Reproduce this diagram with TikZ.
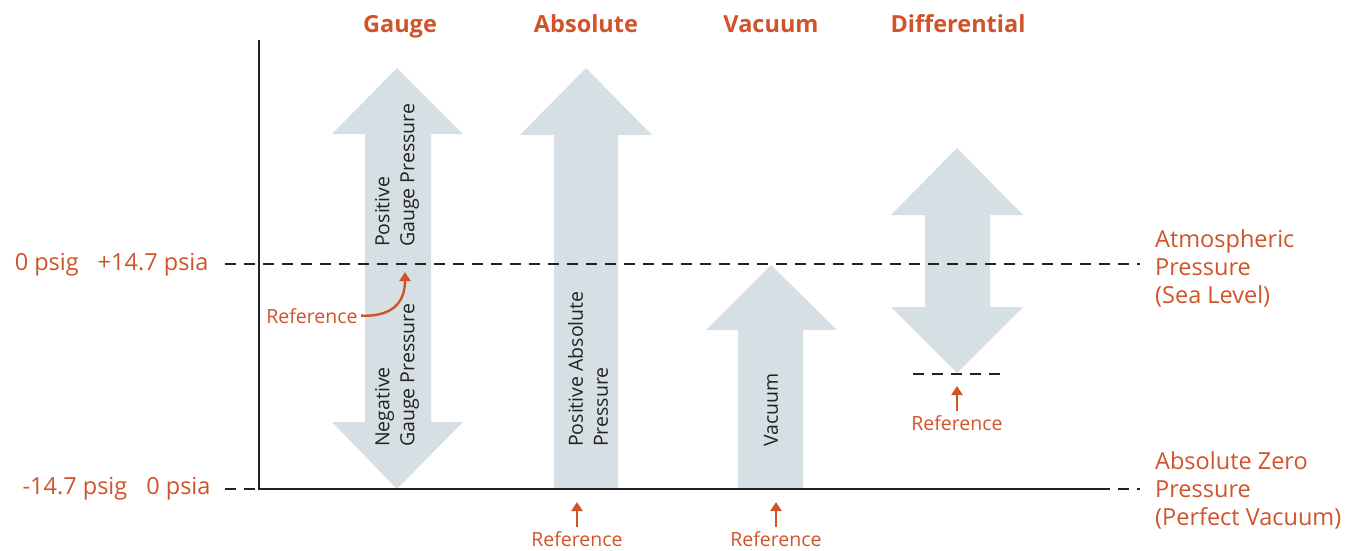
\documentclass[tikz,border=0pt]{standalone}
\usepackage{fontspec}
\setmainfont{Open Sans}
\usetikzlibrary{arrows.meta}
\definecolor{accent}{HTML}{D0532A}
\definecolor{arrowfill}{HTML}{D6DFE4}
\definecolor{ink}{HTML}{222222}
\tikzset{
  bigarrow/.style={fill=arrowfill, draw=none},
  refline/.style={ink, line width=2.4pt, dash pattern=on 11pt off 8pt},
  axisline/.style={ink, line width=2.6pt},
  title/.style={accent, font=\fontsize{23.5}{28}\selectfont\bfseries, anchor=base},
  sidelabel/.style={accent, font=\fontsize{23.5}{28}\selectfont, align=left},
  reftext/.style={accent, font=\fontsize{19.5}{22}\selectfont, anchor=base},
  reftip/.style={accent, line width=2.4pt, -{Triangle[length=9pt,width=11pt]}},
  rottext/.style={ink, font=\fontsize{19.5}{25}\selectfont, rotate=90, anchor=west, align=left, inner sep=0pt}
}
\begin{document}
\begin{tikzpicture}[x=1pt,y=-1pt]
\useasboundingbox (0,0) rectangle (1351,550);

% big arrows
% Gauge (double)
\path[bigarrow] (397,68) -- (463,134) -- (431,134) -- (431,422) -- (463,422) -- (397,489)
  -- (332,422) -- (365,422) -- (365,134) -- (332,134) -- cycle;
% Absolute
\path[bigarrow] (586,68) -- (652,135) -- (618,135) -- (618,489) -- (554,489) -- (554,135) -- (520,135) -- cycle;
% Vacuum
\path[bigarrow] (771,265) -- (837,330) -- (803,330) -- (803,489) -- (738,489) -- (738,330) -- (706,330) -- cycle;
% Differential (double)
\path[bigarrow] (957,148) -- (1023,215) -- (990,215) -- (990,307) -- (1023,307) -- (957,373)
  -- (891,307) -- (925,307) -- (925,215) -- (891,215) -- cycle;

% reference lines
\draw[refline] (225,264) -- (1140,264);
\draw[refline] (225,489) -- (1140,489);
\draw[refline] (913,374) -- (1002,374);
\draw[axisline] (259,40) -- (259,489) -- (1100,489);

% titles
\node[title] (tg) at (400,32) {Gauge};
\node[title] (ta) at (586,32) {Absolute};
\node[title] (tv) at (771,32) {Vacuum};
\node[title] (td) at (958,32) {Differential};

% left labels
\node[sidelabel, anchor=base east] (l1) at (212,270) {0 psig\hspace{19pt}+14.7 psia};
\node[sidelabel, anchor=base east] (l2) at (214,494) {-14.7 psig\hspace{19pt}0 psia};

% right labels
\node[sidelabel, anchor=base west, inner sep=0pt] (r1) at (1155,303) {Atmospheric\\Pressure\\(Sea Level)};
\node[sidelabel, anchor=base west, inner sep=0pt] (r2) at (1155,525) {Absolute Zero\\Pressure\\(Perfect Vacuum)};

% rotated texts
\node[rottext] (pg) at (397,247) {Positive\\Gauge Pressure};
\node[rottext] (ng) at (397,447) {Negative\\Gauge Pressure};
\node[rottext] (pa) at (588,447) {Positive Absolute\\Pressure};
\node[rottext] (vv) at (771,447) {Vacuum};

% reference markers
\node[reftext] (rg) at (312,323) {Reference};
\coordinate (rgtip) at (405,272);
\draw[accent, line width=2.4pt, -{Triangle[length=9pt,width=11pt]}] (rg.east) .. controls (395,317) and (405,300) .. (rgtip);

\node[reftext] (ra) at (577,546) {Reference};
\coordinate (ratip) at (577,502);
\draw[reftip] (ra.north) ++(0,-1) coordinate (ras) (ras) -- (ratip);

\node[reftext] (rv) at (776,546) {Reference};
\coordinate (rvtip) at (776,502);
\draw[reftip] (rv.north) ++(0,-1) coordinate (rvs) (rvs) -- (rvtip);

\node[reftext] (rd) at (957,430) {Reference};
\coordinate (rdtip) at (957,386);
\draw[reftip] (rd.north) ++(0,-1) coordinate (rds) (rds) -- (rdtip);
\end{tikzpicture}
\end{document}
